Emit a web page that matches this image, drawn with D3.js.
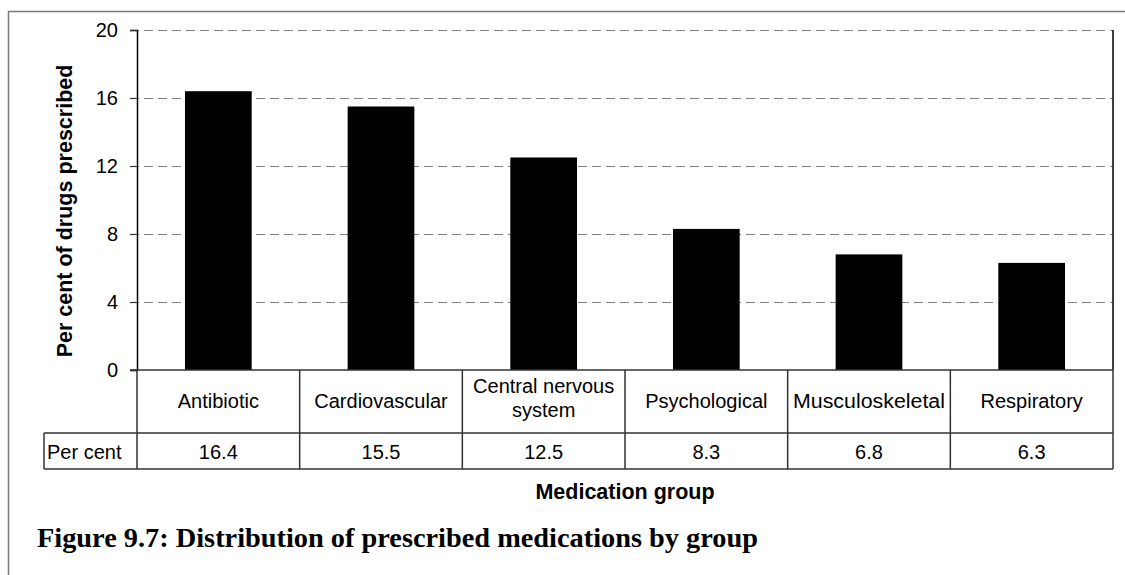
<!DOCTYPE html>
<meta charset="utf-8">
<head>
    <title>Distribution of prescribed medications by group</title>
</head>

<style>
    body { margin: 0; background: #fff; }
    text { font-family: "Liberation Sans", Arial, sans-serif; fill: #000; }
    .grid line { stroke: #808080; stroke-dasharray: 9,5; }
    .grid path { stroke-width: 0; }
    .tbl { stroke: #333; stroke-width: 1.5; fill: none; }
</style>

<script src="https://d3js.org/d3.v7.min.js"></script>

<div id="my_viz"></div>

<script>

    // data
    var groups = ["Antibiotic", "Cardiovascular", "Central nervous system", "Psychological", "Musculoskeletal", "Respiratory"];
    var groupLines = [["Antibiotic"], ["Cardiovascular"], ["Central nervous", "system"], ["Psychological"], ["Musculoskeletal"], ["Respiratory"]];
    var percent = [16.4, 15.5, 12.5, 8.3, 6.8, 6.3];
    var yTicks = [0, 4, 8, 12, 16, 20];

    var W = 1125, H = 575;
    var margin = { top: 30, right: 12, left: 137 },
        width = 1113 - margin.left,
        height = 370 - margin.top;

    var svg = d3.select("#my_viz")
        .append("svg")
        .attr("width", W)
        .attr("height", H);

    // outer frame (runs off right and bottom)
    svg.append("path")
        .attr("d", "M8.5," + H + "V11.5H" + W)
        .attr("fill", "none")
        .attr("stroke", "#7a7a7a")
        .attr("stroke-width", 1.5);

    var g = svg.append("g")
        .attr("transform", "translate(" + margin.left + "," + margin.top + ")");

    var x = d3.scaleBand().domain(groups).range([0, width]).padding(0);
    var y = d3.scaleLinear().domain([0, 20]).range([height, 0]);

    // gridlines
    g.append("g")
        .attr("class", "grid")
        .call(d3.axisLeft(y).tickValues(yTicks.filter(d => d > 0))
            .tickSize(-(width + 7)).tickFormat(""))
        .attr("transform", "translate(-7,0)")
        .selectAll("line")
        .attr("stroke", d => d == 20 ? "#444" : "#808080");

    // bars
    var barW = x.bandwidth() * 0.41;
    g.selectAll(".bar")
        .data(percent)
        .enter()
        .append("rect")
        .attr("class", "bar")
        .attr("x", (d, i) => x(groups[i]) + (x.bandwidth() - barW) / 2)
        .attr("y", d => y(d))
        .attr("width", barW)
        .attr("height", d => height - y(d))
        .attr("fill", "#000");

    // y axis
    var yAxis = g.append("g")
        .call(d3.axisLeft(y).tickValues(yTicks).tickSize(7).tickPadding(12));
    yAxis.select(".domain").attr("stroke", "#000").attr("stroke-width", 1.5);
    yAxis.selectAll(".tick line").attr("stroke", "#333").attr("stroke-width", 1.2);
    yAxis.selectAll(".tick text")
        .attr("font-family", "Liberation Sans, Arial, sans-serif")
        .attr("font-size", "20px")
        .attr("fill", "#000");

    // right border of plot
    g.append("line")
        .attr("x1", width).attr("x2", width)
        .attr("y1", 0).attr("y2", height)
        .attr("stroke", "#000").attr("stroke-width", 1.5);

    // data table under the axis
    var row1 = 63, row2 = 36;
    var t = g.append("g").attr("transform", "translate(0," + height + ")");
    t.append("line").attr("class", "tbl").attr("x1", -7).attr("x2", width).attr("y1", 0).attr("y2", 0);
    t.append("line").attr("class", "tbl").attr("x1", -93).attr("x2", width).attr("y1", row1).attr("y2", row1);
    t.append("line").attr("class", "tbl").attr("x1", -93).attr("x2", width).attr("y1", row1 + row2).attr("y2", row1 + row2);
    t.append("line").attr("class", "tbl").attr("x1", -93).attr("x2", -93).attr("y1", row1).attr("y2", row1 + row2);
    t.selectAll(".sep")
        .data(groups.concat(["end"]))
        .enter()
        .append("line")
        .attr("class", "tbl")
        .attr("x1", (d, i) => i * x.bandwidth())
        .attr("x2", (d, i) => i * x.bandwidth())
        .attr("y1", 0)
        .attr("y2", row1 + row2);

    // category names
    t.selectAll(".cat")
        .data(groupLines)
        .enter()
        .append("text")
        .attr("class", "cat")
        .attr("text-anchor", "middle")
        .attr("font-size", "20px")
        .attr("x", (d, i) => x(groups[i]) + x.bandwidth() / 2)
        .attr("y", d => d.length > 1 ? 23 : 38)
        .each(function (d) {
            var el = d3.select(this);
            d.forEach((s, k) => {
                el.append("tspan")
                    .attr("x", el.attr("x"))
                    .attr("dy", k == 0 ? 0 : 24)
                    .text(s);
            });
        })
        .attr("textLength", d => d[0] == "Musculoskeletal" ? 152 : null)
        .attr("lengthAdjust", "spacingAndGlyphs");

    // values row
    t.append("text")
        .attr("x", -90)
        .attr("y", row1 + 26)
        .attr("font-size", "20px")
        .text("Per cent");
    t.selectAll(".val")
        .data(percent)
        .enter()
        .append("text")
        .attr("class", "val")
        .attr("text-anchor", "middle")
        .attr("font-size", "20px")
        .attr("x", (d, i) => x(groups[i]) + x.bandwidth() / 2)
        .attr("y", row1 + 26)
        .text(d => d.toFixed(1));

    // axis titles
    svg.append("text")
        .attr("transform", "translate(72,211) rotate(-90)")
        .attr("text-anchor", "middle")
        .attr("font-weight", "bold")
        .attr("font-size", "21.5px")
        .text("Per cent of drugs prescribed");

    svg.append("text")
        .attr("x", margin.left + width / 2)
        .attr("y", 499)
        .attr("text-anchor", "middle")
        .attr("font-weight", "bold")
        .attr("font-size", "21.5px")
        .text("Medication group");

    // caption
    svg.append("text")
        .attr("x", 37)
        .attr("y", 547)
        .style("font-family", "'Liberation Serif', 'DejaVu Serif', serif")
        .attr("font-weight", "bold")
        .attr("font-size", "27px")
        .attr("textLength", 721)
        .attr("lengthAdjust", "spacingAndGlyphs")
        .text("Figure 9.7: Distribution of prescribed medications by group");

</script>
